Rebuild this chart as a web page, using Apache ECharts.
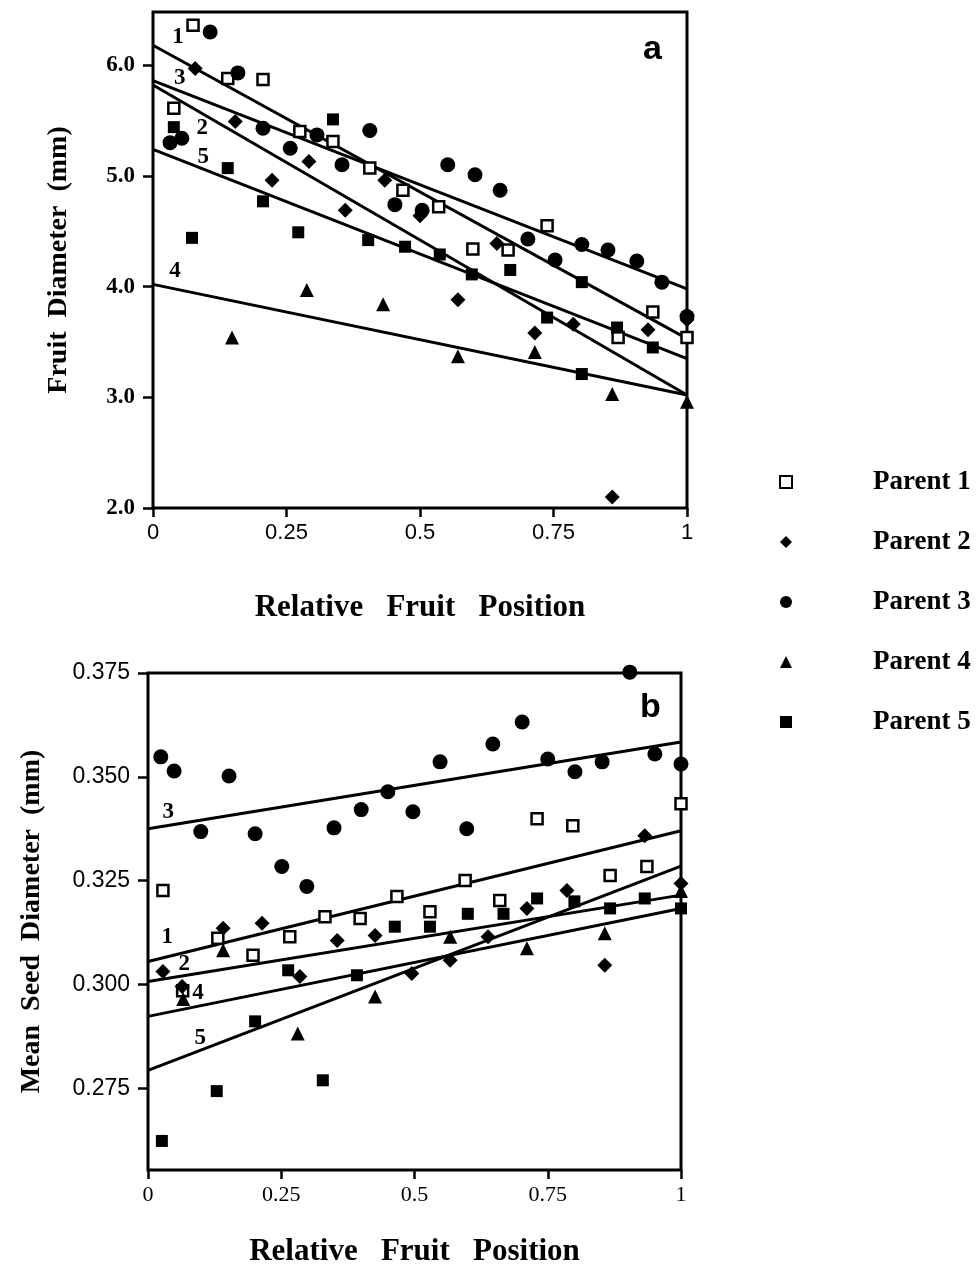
<!DOCTYPE html>
<html>
<head>
<meta charset="utf-8">
<script src="https://cdn.jsdelivr.net/npm/echarts@6/dist/echarts.min.js"></script>
<style>
html, body { margin: 0; background: #fff; }
#chart { width: 978px; height: 1275px; }
</style>
</head>
<body>
<div id="chart"></div>
<script>
// tick values
var xTicks = [0, 0.25, 0.5, 0.75, 1];
var diamTicks = [2, 3, 4, 5, 6];
var seedTicks = [0.275, 0.3, 0.325, 0.35, 0.375];

// panel a : fruit diameter (mm) vs relative fruit position
var diamP1 = [[0.039,5.61],[0.075,6.36],[0.140,5.88],[0.206,5.87],[0.275,5.40],[0.337,5.31],[0.406,5.07],[0.468,4.87],[0.535,4.72],[0.599,4.34],[0.665,4.33],[0.738,4.55],[0.871,3.54],[0.936,3.77],[1.0,3.54]];
var diamP2 = [[0.079,5.97],[0.154,5.49],[0.223,4.96],[0.292,5.13],[0.360,4.69],[0.434,4.96],[0.500,4.64],[0.571,3.88],[0.644,4.39],[0.715,3.58],[0.787,3.66],[0.860,2.10],[0.927,3.61],[1.0,3.70]];
var diamP3 = [[0.032,5.30],[0.054,5.34],[0.107,6.30],[0.159,5.93],[0.206,5.43],[0.257,5.25],[0.307,5.37],[0.354,5.10],[0.406,5.41],[0.453,4.74],[0.504,4.69],[0.552,5.10],[0.603,5.01],[0.650,4.87],[0.702,4.43],[0.753,4.24],[0.803,4.38],[0.852,4.33],[0.906,4.23],[0.953,4.04],[1.0,3.73]];
var diamP4 = [[0.148,3.54],[0.288,3.97],[0.431,3.84],[0.571,3.37],[0.715,3.41],[0.860,3.03],[1.0,2.96]];
var diamP5 = [[0.039,5.44],[0.073,4.44],[0.140,5.07],[0.206,4.77],[0.272,4.49],[0.337,5.51],[0.403,4.42],[0.472,4.36],[0.537,4.29],[0.597,4.11],[0.669,4.15],[0.738,3.72],[0.803,4.04],[0.803,3.21],[0.869,3.63],[0.936,3.45]];
// fitted lines: value at position 0 and at position 1
var diamFit = [[6.18,3.53],[5.82,3.02],[5.86,3.98],[4.02,3.02],[5.24,3.35]];
var diamTags = [[0.047,6.25,'1'],[0.092,5.43,'2'],[0.050,5.88,'3'],[0.041,4.14,'4'],[0.094,5.17,'5']];

// panel b : mean seed diameter (mm)
var seedP1 = [[0.028,0.3226],[0.065,0.2985],[0.131,0.3111],[0.197,0.3070],[0.266,0.3115],[0.332,0.3163],[0.398,0.3159],[0.467,0.3212],[0.529,0.3175],[0.595,0.3250],[0.660,0.3202],[0.730,0.3399],[0.797,0.3382],[0.867,0.3262],[0.936,0.3284],[1.0,0.3435]];
var seedP2 = [[0.028,0.3031],[0.064,0.2995],[0.141,0.3135],[0.214,0.3147],[0.285,0.3019],[0.355,0.3106],[0.426,0.3118],[0.495,0.3026],[0.567,0.3058],[0.638,0.3115],[0.711,0.3183],[0.786,0.3226],[0.857,0.3046],[0.932,0.3358],[1.0,0.3243]];
var seedP3 = [[0.024,0.3548],[0.049,0.3514],[0.099,0.3368],[0.152,0.3502],[0.201,0.3363],[0.251,0.3284],[0.298,0.3236],[0.349,0.3377],[0.400,0.3421],[0.450,0.3464],[0.497,0.3416],[0.548,0.3536],[0.598,0.3375],[0.647,0.3579],[0.702,0.3632],[0.750,0.3543],[0.801,0.3512],[0.852,0.3536],[0.904,0.3752],[0.951,0.3555],[1.0,0.3531]];
var seedP4 = [[0.066,0.2965],[0.141,0.3082],[0.281,0.2882],[0.426,0.2971],[0.567,0.3115],[0.711,0.3087],[0.857,0.3123],[1.0,0.3225]];
var seedP5 = [[0.026,0.2623],[0.129,0.2743],[0.201,0.2911],[0.263,0.3034],[0.328,0.2769],[0.392,0.3022],[0.463,0.3139],[0.529,0.3139],[0.600,0.3170],[0.667,0.3170],[0.730,0.3207],[0.800,0.3200],[0.867,0.3183],[0.932,0.3207],[1.0,0.3183]];
var seedFit = [[0.3055,0.3370],[0.3007,0.3215],[0.3375,0.3584],[0.2923,0.3183],[0.2793,0.3285]];
var seedTags = [[0.036,0.3115,'1'],[0.068,0.3050,'2'],[0.038,0.3416,'3'],[0.094,0.2978,'4'],[0.098,0.2870,'5']];

var parents = ['Parent 1', 'Parent 2', 'Parent 3', 'Parent 4', 'Parent 5'];

var SERIF = "'Liberation Serif','Times New Roman',serif";
var SANS = "'Liberation Sans',Arial,sans-serif";

var marks = [
    { symbol: 'rect', size: 11, color: '#fff', borderWidth: 2.5 },
    { symbol: 'diamond', size: 15, color: '#000', borderWidth: 0 },
    { symbol: 'circle', size: 15, color: '#000', borderWidth: 0 },
    { symbol: 'triangle', size: 14, color: '#000', borderWidth: 0 },
    { symbol: 'rect', size: 12, color: '#000', borderWidth: 0 }
];

function xAxisFor(gi, font) {
    return {
        type: 'value', gridIndex: gi, min: 0, max: 1, interval: 0.25,
        name: 'Relative   Fruit   Position', nameLocation: 'middle',
        nameGap: gi === 0 ? 84 : 66,
        nameTextStyle: { fontFamily: SERIF, fontWeight: 'bold', fontSize: 31, color: '#000' },
        axisLine: { show: false },
        axisTick: { show: true, inside: false, length: 9, lineStyle: { color: '#000', width: 2.5 } },
        axisLabel: { margin: 14, fontFamily: font, fontSize: 22, color: '#000',
            formatter: function (v) { return String(v); } },
        splitLine: { show: false }
    };
}

function yAxisFor(gi, min, max, ticks, name, gap, fmt, font, weight) {
    return {
        type: 'value', gridIndex: gi, min: min, max: max,
        name: name, nameLocation: 'middle', nameGap: gap,
        nameTextStyle: { fontFamily: SERIF, fontWeight: 'bold', fontSize: 28, color: '#000' },
        axisLine: { show: false },
        axisTick: { show: true, inside: false, length: 10, customValues: ticks,
            lineStyle: { color: '#000', width: 2.5 } },
        axisLabel: { margin: 18, fontFamily: font, fontWeight: weight, fontSize: 23, color: '#000',
            customValues: ticks, formatter: fmt },
        splitLine: { show: false }
    };
}

function lineSeries(gi, ends) {
    return {
        type: 'line', xAxisIndex: gi, yAxisIndex: gi,
        data: [[0, ends[0]], [1, ends[1]]],
        symbol: 'none', silent: true, z: 2,
        lineStyle: { color: '#000', width: 3 }
    };
}

function dotSeries(gi, k, data) {
    var m = marks[k];
    return {
        type: 'scatter', name: parents[k], xAxisIndex: gi, yAxisIndex: gi,
        data: data, symbol: m.symbol, symbolSize: m.size, clip: false, z: 3,
        itemStyle: { color: m.color, borderColor: '#000', borderWidth: m.borderWidth, opacity: 1 }
    };
}

// line numbers written next to each fitted line
function tagSeries(gi, tags) {
    return {
        type: 'scatter', xAxisIndex: gi, yAxisIndex: gi, silent: true, z: 4,
        data: tags, symbolSize: 0, itemStyle: { color: '#000', opacity: 1 },
        label: { show: true, position: 'inside', fontFamily: SERIF, fontWeight: 'bold',
            fontSize: 23, color: '#000', opacity: 1, textBorderWidth: 0,
            formatter: function (p) { return p.value[2]; } }
    };
}

var series = [];
diamFit.forEach(function (f) { series.push(lineSeries(0, f)); });
seedFit.forEach(function (f) { series.push(lineSeries(1, f)); });
[diamP1, diamP2, diamP3, diamP4, diamP5].forEach(function (d, k) { series.push(dotSeries(0, k, d)); });
[seedP1, seedP2, seedP3, seedP4, seedP5].forEach(function (d, k) { series.push(dotSeries(1, k, d)); });
series.push(tagSeries(0, diamTags));
series.push(tagSeries(1, seedTags));

var option = {
    animation: false,
    backgroundColor: '#fff',
    title: [
        { text: 'a', left: 638, top: 28, textStyle: { fontFamily: SANS, fontWeight: 'bold', fontSize: 34, color: '#000' } },
        { text: 'b', left: 635, top: 686, textStyle: { fontFamily: SANS, fontWeight: 'bold', fontSize: 34, color: '#000' } }
    ],
    legend: {
        data: parents, orient: 'vertical', left: 774, top: 463,
        itemWidth: 12, itemHeight: 12, itemGap: 32,
        textStyle: { fontFamily: SERIF, fontWeight: 'bold', fontSize: 27, lineHeight: 28, color: '#000',
            padding: [0, 0, 0, 76] },
        selectedMode: false
    },
    grid: [
        { left: 153, top: 12, width: 534, height: 496, show: true, borderColor: '#000', borderWidth: 3, backgroundColor: 'transparent' },
        { left: 148, top: 673, width: 533, height: 497, show: true, borderColor: '#000', borderWidth: 3, backgroundColor: 'transparent' }
    ],
    xAxis: [xAxisFor(0, SANS), xAxisFor(1, SERIF)],
    yAxis: [
        yAxisFor(0, 2, 6.48, diamTicks, 'Fruit  Diameter  (mm)', 80,
            function (v) { return v.toFixed(1); }, SERIF, 'bold'),
        yAxisFor(1, 0.2553, 0.375, seedTicks, 'Mean  Seed  Diameter  (mm)', 102,
            function (v) { return v.toFixed(3); }, SANS, 'normal')
    ],
    series: series
};

var chart = echarts.init(document.getElementById('chart'), null, { renderer: 'canvas' });
chart.setOption(option);
</script>
</body>
</html>
